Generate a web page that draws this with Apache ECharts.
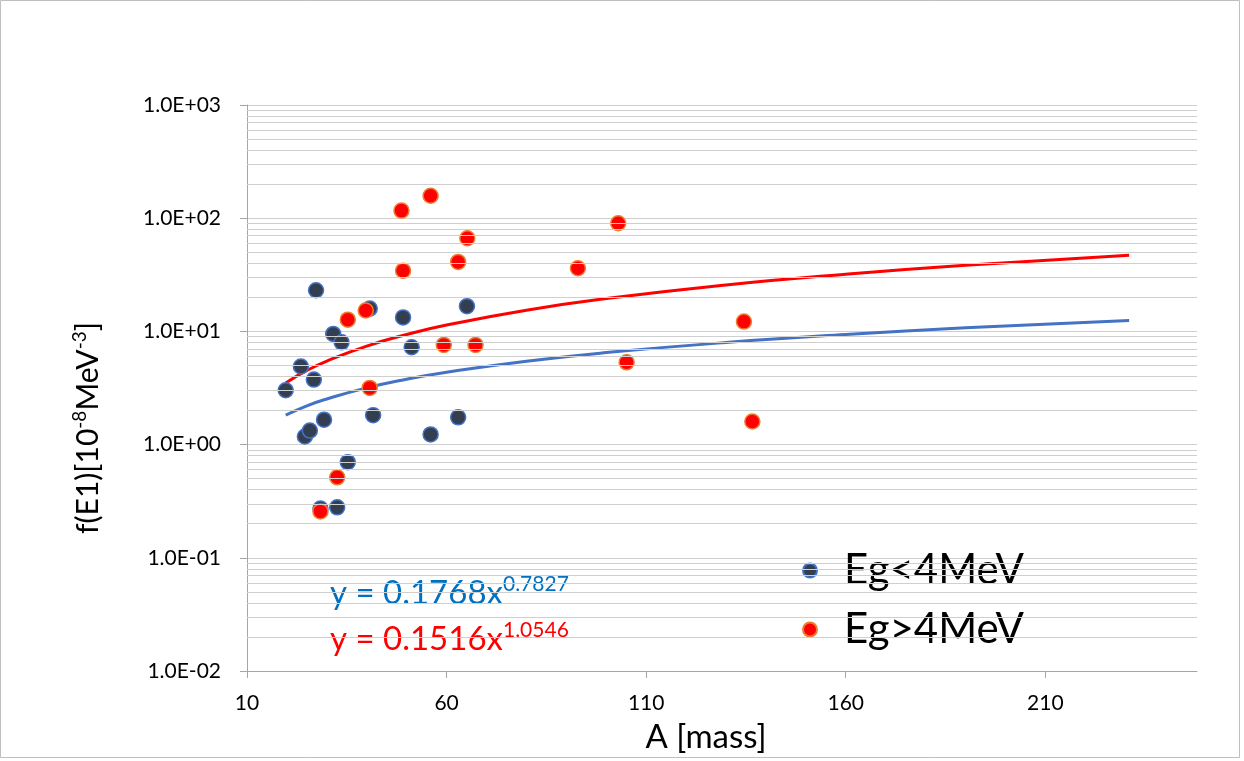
<!DOCTYPE html>
<html>
<head>
<meta charset="utf-8">
<script src="https://cdn.jsdelivr.net/npm/echarts@6/dist/echarts.min.js"></script>
<style>
html,body{margin:0;padding:0;background:#fff;}
#chart{width:1244px;height:761px;}
</style>
</head>
<body>
<div id="chart"></div>
<script>
// ---- data ----
const lowName = 'Eg<4MeV';
const highName = 'Eg>4MeV';
const lowA = [19.7, 23.5, 26.75, 27.3, 24.5, 25.75, 29.3, 28.4, 31.6, 33.7, 32.6, 35.25, 40.75, 41.6, 49.1, 51.25, 56, 62.9, 65.1];
const lowF = [3.02, 4.9, 3.75, 23.1, 1.18, 1.33, 1.66, 0.272, 9.5, 8.0, 0.279, 0.70, 15.9, 1.82, 13.3, 7.24, 1.23, 1.74, 16.7];
const highA = [28.4, 32.6, 35.25, 39.75, 40.75, 48.7, 49.1, 56, 59.3, 62.9, 65.2, 67.25, 92.9, 103, 105.1, 134.5, 136.6];
const highF = [0.257, 0.514, 12.7, 15.3, 3.17, 116.7, 34.4, 158, 7.6, 41.1, 66.5, 7.6, 36.1, 90.2, 5.33, 12.2, 1.6];
// trend lines
const trendA = [19.7, 25, 30, 40, 50, 60, 80, 100, 130, 160, 190, 231];
const lowTrendF = [1.82, 2.20, 2.53, 3.17, 3.78, 4.36, 5.46, 6.5, 7.98, 9.39, 10.75, 12.5];
const highTrendF = [3.5, 4.52, 5.47, 7.42, 9.39, 11.37, 15.4, 19.5, 25.7, 32.0, 38.4, 47.1];
const lowEquation = ['y = 0.1768x', '0.7827'];
const highEquation = ['y = 0.1516x', '1.0546'];
// ticks
const xTicks = [10, 60, 110, 160, 210];
const yTickValues = [0.01, 0.1, 1, 10, 100, 1000];
const yTickLabels = ['1.0E-02', '1.0E-01', '1.0E+00', '1.0E+01', '1.0E+02', '1.0E+03'];
const yMinorMultipliers = [2, 3, 4, 5, 6, 7, 8, 9];

const FONT = 'Lato, "Open Sans", sans-serif';
const zip = (a, b) => a.map((v, i) => [v, b[i]]);

const minorLines = [];
for (let d = 0; d < yTickValues.length - 1; d++) {
  yMinorMultipliers.forEach(m => minorLines.push({ yAxis: yTickValues[d] * m }));
}

const chart = echarts.init(document.getElementById('chart'), null, { renderer: 'canvas' });
chart.setOption({
  animation: false,
  backgroundColor: '#fff',
  grid: { left: 247, right: 47, top: 105, bottom: 90 },
  xAxis: {
    type: 'value', min: 10, max: 248,
    axisLine: { show: true, lineStyle: { color: '#A6A6A6', width: 1 } },
    axisTick: { show: true, length: 7, lineStyle: { color: '#A6A6A6' }, customValues: xTicks },
    axisLabel: { customValues: xTicks, margin: 22, fontSize: 21, color: '#000', fontFamily: FONT },
    splitLine: { show: false }
  },
  yAxis: {
    type: 'log', logBase: 10, min: 0.01, max: 1000,
    axisLine: { show: true, lineStyle: { color: '#A6A6A6', width: 1 } },
    axisTick: { show: true, length: 7, lineStyle: { color: '#A6A6A6' } },
    axisLabel: {
      margin: 26, fontSize: 21, color: '#000', fontFamily: FONT,
      formatter: v => {
        let best = 0, bd = Infinity;
        yTickValues.forEach((t, i) => { const d = Math.abs(Math.log10(t) - Math.log10(v)); if (d < bd) { bd = d; best = i; } });
        return yTickLabels[best];
      }
    },
    splitLine: { show: true, lineStyle: { color: '#CFCFCF', width: 1 } }
  },
  legend: {
    data: [lowName, highName],
    orient: 'vertical', left: 797, top: 543,
    icon: 'circle', itemWidth: 58, itemHeight: 14, itemGap: 14,
    textStyle: { fontSize: 42, fontFamily: FONT, color: '#000', lineHeight: 45 }
  },
  graphic: [
    { type: 'rect', shape: { x: 0.5, y: 0.5, width: 1239, height: 757 }, style: { fill: 'none', stroke: '#BFBFBF', lineWidth: 1 }, silent: true },
    { type: 'text', x: 330, y: 574, style: {
        text: '{m|' + lowEquation[0] + '}{s|' + lowEquation[1] + '}',
        rich: { m: { fontSize: 33, fontFamily: FONT, fill: '#0070C0', lineHeight: 38 },
                s: { fontSize: 21, fontFamily: FONT, fill: '#0070C0', verticalAlign: 'top', lineHeight: 21 } } } },
    { type: 'text', x: 330, y: 620, style: {
        text: '{m|' + highEquation[0] + '}{s|' + highEquation[1] + '}',
        rich: { m: { fontSize: 33, fontFamily: FONT, fill: '#FF0000', lineHeight: 38 },
                s: { fontSize: 21, fontFamily: FONT, fill: '#FF0000', verticalAlign: 'top', lineHeight: 21 } } } },
    { type: 'text', x: 88, y: 428, rotation: Math.PI / 2, style: {
        text: '{m|f(E1)[10}{s|-8}{m|MeV}{s|-3}{m|]}',
        align: 'center', verticalAlign: 'middle',
        rich: { m: { fontSize: 30, fontFamily: FONT, fill: '#000', lineHeight: 36 },
                s: { fontSize: 19, fontFamily: FONT, fill: '#000', verticalAlign: 'top', lineHeight: 19 } } } },
    { type: 'text', x: 706, y: 737, style: {
        text: 'A [mass]', align: 'center', verticalAlign: 'middle',
        fontSize: 33, fontFamily: FONT, fill: '#000' } }
  ],
  series: [
    { type: 'line', name: 'grid-minor', data: [], silent: true, z: 0,
      markLine: { silent: true, symbol: ['none', 'none'], label: { show: false },
        lineStyle: { color: '#CFCFCF', width: 1, type: 'solid' }, animation: false, data: minorLines } },
    { type: 'line', name: 'lowTrend', data: zip(trendA, lowTrendF), smooth: true, showSymbol: false,
      lineStyle: { color: '#4472C4', width: 3 }, z: 1, silent: true },
    { type: 'line', name: 'highTrend', data: zip(trendA, highTrendF), smooth: true, showSymbol: false,
      lineStyle: { color: '#FF0000', width: 3 }, z: 1, silent: true },
    { type: 'scatter', name: lowName, data: zip(lowA, lowF), symbolSize: 15, z: 3,
      itemStyle: { color: '#333F50', borderColor: '#4472C4', borderWidth: 1.5, opacity: 1 } },
    { type: 'scatter', name: highName, data: zip(highA, highF), symbolSize: 15, z: 4,
      itemStyle: { color: '#FF0000', borderColor: '#ED7D31', borderWidth: 1.5, opacity: 1 } }
  ]
});
</script>
</body>
</html>
